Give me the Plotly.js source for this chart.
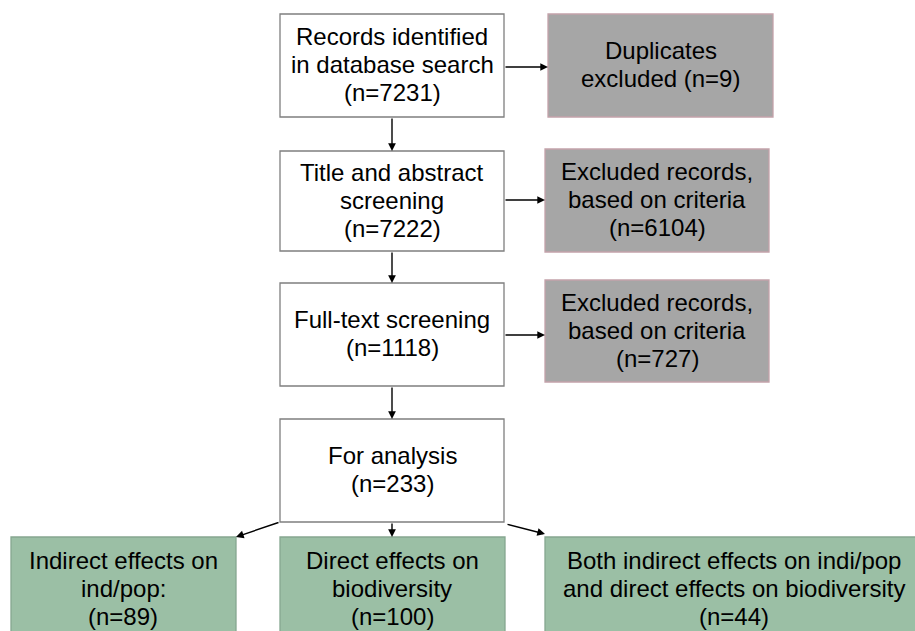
<!DOCTYPE html>
<html>
<head>
<meta charset="utf-8">
<script src="https://cdn.plot.ly/plotly-3.0.1.min.js"></script>
<style>html,body{margin:0;padding:0;background:#fff;}#chart{width:915px;height:631px;}</style>
</head>
<body>
<div id="chart"></div>
<script>
// ---- Data ----
var stageLines = [
  ["Records identified", "in database search"],
  ["Title and abstract", "screening"],
  ["Full-text screening"],
  ["For analysis"]
];
var stageCounts = [7231, 7222, 1118, 233];

var excludedLines = [
  ["Duplicates", "excluded (n=9)"],
  ["Excluded records,", "based on criteria"],
  ["Excluded records,", "based on criteria"]
];
var excludedCounts = [9, 6104, 727];

var groupLines = [
  ["Indirect effects on", "ind/pop:"],
  ["Direct effects on", "biodiversity"],
  ["Both indirect effects on indi/pop", "and direct effects on biodiversity"]
];
var groupCounts = [89, 100, 44];

// ---- Layout geometry (positions in pixel-like data units) ----
var stageBoxes = [[280, 504, 14, 117], [280, 504, 151, 251], [280, 504, 283, 386], [280, 504, 419, 522]];
var excludedBoxes = [[548, 773, 14, 117], [545, 769, 149, 252], [545, 769, 280, 382]];
var groupBoxes = [[11, 236, 537, 640], [280, 505, 537, 640], [545, 925, 537, 640]];
var lineGap = 28;

var shapes = [];
var annotations = [];
var FONT = {family: "Liberation Sans, Arial, sans-serif", size: 24, color: "#000"};

function addBox(b, fill, border) {
  shapes.push({type: "rect", xref: "x", yref: "y", x0: b[0], x1: b[1], y0: b[2], y1: b[3],
    fillcolor: fill, line: {color: border, width: 1.3}, layer: "below"});
}
function addText(lines, cx, cy) {
  var n = lines.length;
  for (var i = 0; i < n; i++) {
    annotations.push({xref: "x", yref: "y", x: cx, y: cy + (i - (n - 1) / 2) * lineGap,
      text: lines[i], showarrow: false, font: FONT, xanchor: "center", yanchor: "middle"});
  }
}
function addArrow(x0, y0, x1, y1) {
  annotations.push({xref: "x", yref: "y", axref: "x", ayref: "y", x: x1, y: y1, ax: x0, ay: y0,
    text: "", showarrow: true, arrowhead: 2, arrowsize: 1.1, arrowwidth: 1.4, arrowcolor: "#000",
    standoff: 0, startstandoff: 0, font: {size: 1}});
}

// Stage boxes
for (var i = 0; i < stageLines.length; i++) {
  var b = stageBoxes[i];
  addBox(b, "#ffffff", "#7f7f7f");
  var lines = stageLines[i].concat(["(n=" + stageCounts[i] + ")"]);
  addText(lines, (b[0] + b[1]) / 2, (b[2] + b[3]) / 2 - 1);
}
// Excluded boxes
for (var j = 0; j < excludedLines.length; j++) {
  var e = excludedBoxes[j];
  addBox(e, "#a6a6a6", "#c4a2aa");
  var el = excludedLines[j].slice();
  if (j > 0) el.push("(n=" + excludedCounts[j] + ")");
  addText(el, (e[0] + e[1]) / 2, (e[2] + e[3]) / 2 - 1);
}
// Group boxes
var groupTextCx = [123, 392, 734];
for (var k = 0; k < groupLines.length; k++) {
  var g = groupBoxes[k];
  addBox(g, "#9bbfa5", "#86a790");
  addText(groupLines[k].concat(["(n=" + groupCounts[k] + ")"]), groupTextCx[k], 588);
}

// Arrows: stage -> stage
for (var s = 0; s < stageBoxes.length - 1; s++) {
  addArrow(392, stageBoxes[s][3], 392, stageBoxes[s + 1][2]);
}
// Arrows: stage -> excluded
var exY = [67, 200, 335];
for (var t = 0; t < excludedBoxes.length; t++) {
  addArrow(stageBoxes[t][1], exY[t], excludedBoxes[t][0], exY[t]);
}
// Arrows: analysis -> groups
addArrow(280, 522, 236, 537);
addArrow(392, 522, 392, 537);
addArrow(506, 524, 545, 534);

var layout = {
  width: 915, height: 631,
  margin: {l: 0, r: 0, t: 0, b: 0},
  paper_bgcolor: "#ffffff", plot_bgcolor: "#ffffff",
  xaxis: {range: [0, 915], visible: false, fixedrange: true},
  yaxis: {range: [631, 0], visible: false, fixedrange: true},
  shapes: shapes,
  annotations: annotations,
  showlegend: false
};

Plotly.newPlot("chart", [{x: [], y: [], type: "scatter", mode: "markers", hoverinfo: "skip"}], layout, {staticPlot: true, displayModeBar: false});
</script>
</body>
</html>
